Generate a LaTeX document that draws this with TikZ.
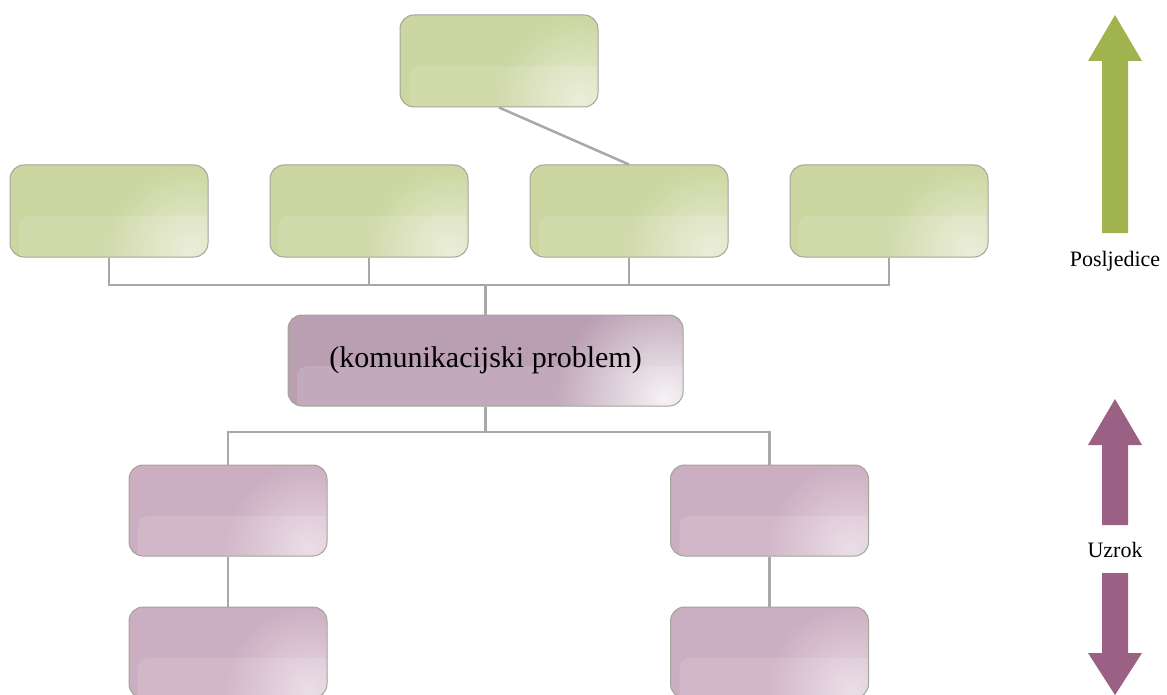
\documentclass[tikz,border=0pt]{standalone}
\usepackage{fontspec}
\setmainfont{Liberation Serif}
\usetikzlibrary{fadings}
\tikzfading[name=glowfade, inner color=transparent!0, outer color=transparent!100]
\definecolor{grnbox}{HTML}{CBD6A0}
\definecolor{pnkbox}{HTML}{CCAEC2}
\definecolor{ctrbox}{HTML}{BA9EB2}
\definecolor{boxline}{HTML}{A4A49A}
\definecolor{connc}{HTML}{A8A8A8}
\definecolor{garrow}{HTML}{A1B34F}
\definecolor{parrow}{HTML}{9A6184}
\begin{document}
\begin{tikzpicture}[x=1pt,y=-1pt,
  glowr/.store in=\glowr, glowr=85pt,
  glowo/.store in=\glowo, glowo=0.55,
  box/.style={draw=boxline, line width=1pt, rounded corners=14pt,
    minimum width=198pt, minimum height=92pt, inner sep=0pt,
    path picture={
      \fill[white,opacity=0.12,rounded corners=10pt]
        ([xshift=9pt,yshift=-6pt]path picture bounding box.south west) rectangle
        ([xshift=10pt,yshift=-51pt]path picture bounding box.north east);
      \fill[white,opacity=\glowo,path fading=glowfade]
        ([xshift=-18pt,yshift=8pt]path picture bounding box.south east) circle (\glowr);
    }},
  gbox/.style={box, fill=grnbox},
  pbox/.style={box, fill=pnkbox},
  cbox/.style={box, fill=ctrbox, minimum width=395pt, minimum height=91pt,
    glowr=110pt, glowo=0.85, font=\fontsize{30}{36}\selectfont},
  conn/.style={draw=connc, line width=2.5pt},
  lbl/.style={font=\fontsize{22}{26}\selectfont, inner sep=0pt}
]
\useasboundingbox (0,0) rectangle (1167,695);

% nodes
\node[gbox] (top) at (499,61) {};
\node[gbox] (g1) at (109,211) {};
\node[gbox] (g2) at (369,211) {};
\node[gbox] (g3) at (629,211) {};
\node[gbox] (g4) at (889,211) {};
\node[cbox] (c) at (485.5,360.5) {(komunikacijski problem)};
\node[pbox, minimum height=91pt] (p1) at (228,510.5) {};
\node[pbox, minimum height=91pt] (p2) at (769.5,510.5) {};
\node[pbox, minimum height=91pt] (p3) at (228,652.5) {};
\node[pbox, minimum height=91pt] (p4) at (769.5,652.5) {};

% connectors
\coordinate (b1) at (485.5,285);
\coordinate (b2) at (485.5,432);
\draw[conn] (top.south) -- (g3.north);
\draw[conn] (g1.south) |- (b1);
\draw[conn] (g2.south) |- (b1);
\draw[conn] (g3.south) |- (b1);
\draw[conn] (g4.south) |- (b1);
\draw[conn] (b1) -- (c.north);
\draw[conn] (c.south) -- (b2);
\draw[conn] (b2) -| (p1.north);
\draw[conn] (b2) -| (p2.north);
\draw[conn] (p1) -- (p3);
\draw[conn] (p2) -- (p4);

% side arrows
\fill[garrow] (1115,15) -- (1142,61) -- (1128,61) -- (1128,233) -- (1102,233) -- (1102,61) -- (1088,61) -- cycle;
\fill[parrow] (1115,399) -- (1142,445) -- (1128,445) -- (1128,525) -- (1102,525) -- (1102,445) -- (1088,445) -- cycle;
\fill[parrow] (1115,695) -- (1142,653) -- (1128,653) -- (1128,573) -- (1102,573) -- (1102,653) -- (1088,653) -- cycle;

\node[lbl] (posl) at (1115,261) {Posljedice};
\node[lbl] (uzr) at (1115,550) {Uzrok};
\end{tikzpicture}
\end{document}
